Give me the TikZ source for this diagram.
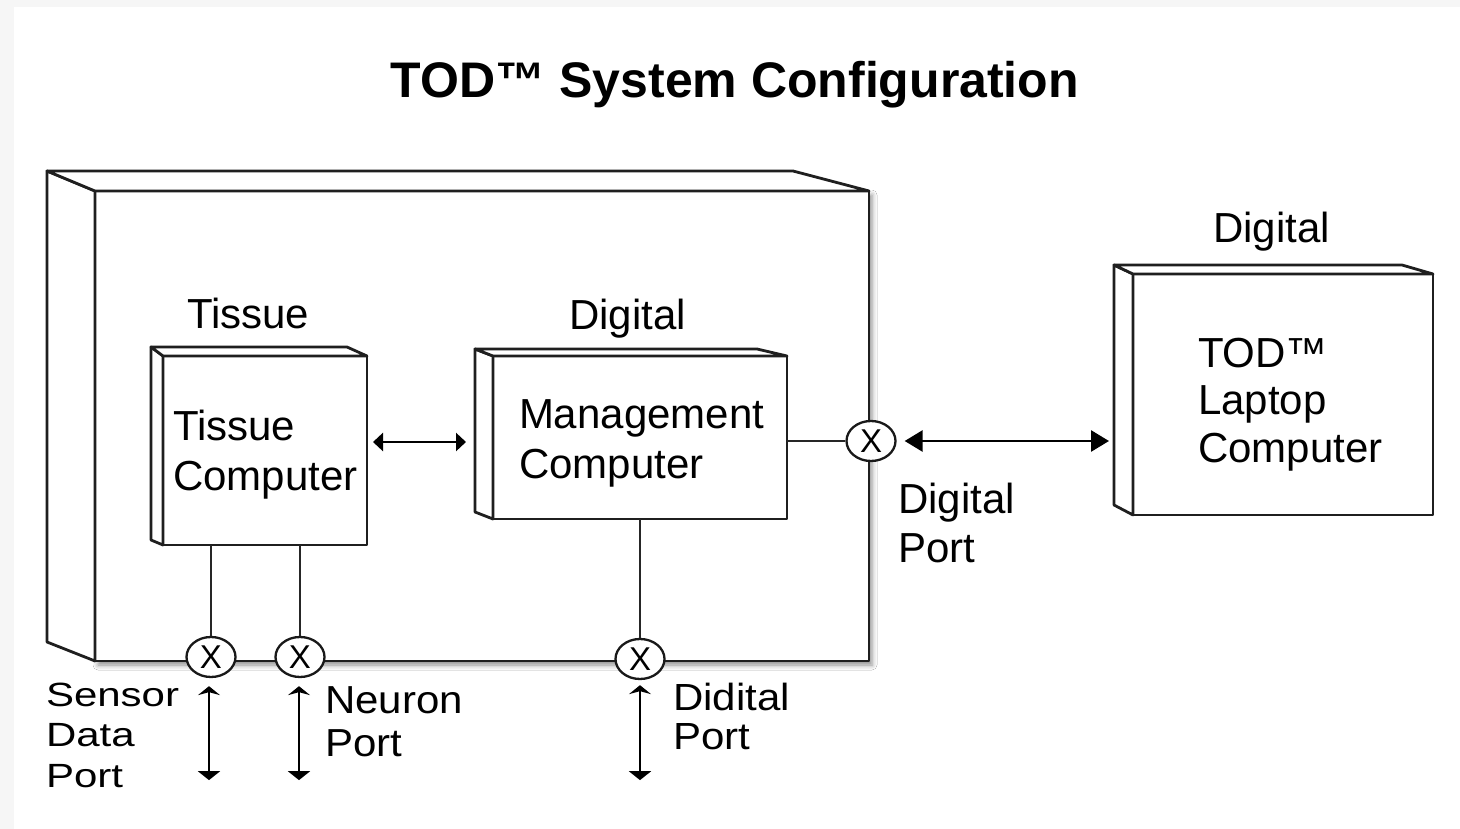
\documentclass[tikz,border=0pt]{standalone}
\usepackage{fontspec}
\setmainfont{Liberation Sans}
\usetikzlibrary{arrows.meta,shapes.geometric,calc,shadows.blur}
\newcommand{\vsq}[2]{\scalebox{1}[#1]{\begin{tabular}[t]{@{}l@{}}#2\end{tabular}}}
\begin{document}
\begin{tikzpicture}[x=1pt,y=-1pt,
  boxline/.style={line width=2.8pt, line join=round, draw=black!88},
  face/.style={boxline, fill=white},
  front/.style={boxline, fill=white, rectangle, anchor=north west, inner sep=0pt, outer sep=0pt},
  wire/.style={line width=2pt, draw=black!85},
  port/.style={ellipse, draw=black!90, line width=2.3pt, fill=white, minimum width=49pt, minimum height=40pt, inner sep=0pt, font=\fontsize{33}{33}\selectfont},
  lbl/.style={anchor=base west, inner sep=0pt, outer sep=0pt},
  hdr/.style={anchor=base west, inner sep=0pt, font=\fontsize{42}{50}\selectfont},
  harrow/.style={line width=2.8pt, {Triangle[length=10pt,width=18pt]}-{Triangle[length=10pt,width=18pt]}},
  bigarrow/.style={line width=2.8pt, {Triangle[length=18pt,width=21pt]}-{Triangle[length=18pt,width=21pt]}},
  varrow/.style={line width=2.6pt, {Stealth[length=9pt,width=22pt,inset=3pt]}-{Triangle[length=9pt,width=22pt]}}
]
\useasboundingbox (0,0) rectangle (1460,829);
% page background
\fill[gray!7] (0,0) rectangle (1460,829);
\fill[white] (14,7) rectangle (1460,829);

% title
\node[anchor=base, inner sep=0pt, font=\fontsize{50}{60}\selectfont\bfseries] (title) at (735,98) {TOD™ System Configuration};

% ---------- system enclosure ----------
\node[front, minimum width=774pt, minimum height=470pt,
      blur shadow={shadow xshift=3pt, shadow yshift=-4pt, shadow blur radius=5pt, shadow opacity=45}] (sys) at (95,191) {};
\draw[face] (47,171) -- (95,191) -- (95,661) -- (47,642) -- cycle;
\draw[face] (47,171) -- (793,171) -- (869,191) -- (95,191) -- cycle;

% ---------- tissue computer ----------
\node[front, minimum width=204pt, minimum height=189pt] (tc) at (163,356) {};
\draw[face] (151,347) -- (163,356) -- (163,545) -- (151,540) -- cycle;
\draw[face] (151,347) -- (347,347) -- (367,356) -- (163,356) -- cycle;
\node[lbl] (tctext) at (173,440) {\fontsize{42}{50}\selectfont\vsq{1}{Tissue\\Computer}};
\node[hdr] (tchdr) at (187,328) {Tissue};

% ---------- management computer ----------
\node[front, minimum width=294pt, minimum height=163pt] (mc) at (493,356) {};
\draw[face] (475,349) -- (493,356) -- (493,519) -- (475,512) -- cycle;
\draw[face] (475,349) -- (757,349) -- (787,356) -- (493,356) -- cycle;
\coordinate (mcL) at (475,442);
\node[lbl] (mctext) at (519,428) {\fontsize{42}{50}\selectfont\vsq{1}{Management\\Computer}};
\node[hdr] (mchdr) at (569,330) {Digital};

% ---------- laptop ----------
\node[front, minimum width=300pt, minimum height=241pt] (lap) at (1133,274) {};
\draw[face] (1114,265) -- (1133,274) -- (1133,515) -- (1114,505) -- cycle;
\draw[face] (1114,265) -- (1402,265) -- (1433,274) -- (1133,274) -- cycle;
\coordinate (lapL) at (1114,441);
\node[lbl] (laptext) at (1198,367) {\fontsize{42}{47.5}\selectfont\vsq{1}{TOD™\\Laptop\\Computer}};
\node[hdr] (laphdr) at (1213,243) {Digital};

% ---------- ports ----------
\node[port] (p1) at (211,657) {X};
\node[port] (p2) at (300,657) {X};
\node[port] (p3) at (640,659) {X};
\node[port] (p4) at (871,441) {X};

% wires
\draw[wire] (p1.north |- tc.south) -- (p1.north);
\draw[wire] (p2.north |- tc.south) -- (p2.north);
\draw[wire] (p3.north |- mc.south) -- (p3.north);
\draw[wire] (mc.east |- p4) -- (p4.west);

% arrows
\draw[harrow] ($(tc.east |- mcL)+(6,0)$) -- ($(mcL)+(-9,0)$);
\draw[bigarrow] ($(p4.east)+(8,0)$) -- ($(lapL)+(-5,0)$);
\draw[varrow] ($(p1.south)+(-2,8)$) -- ($(p1.south)+(-2,102)$);
\draw[varrow] ($(p2.south)+(-1,8)$) -- ($(p2.south)+(-1,102)$);
\draw[varrow] ($(p3.south)+(0,5)$) -- ($(p3.south)+(0,100)$);

% port labels
\node[lbl] (dplbl) at (898,513) {\fontsize{42}{49}\selectfont\vsq{1}{Digital\\Port}};
\node[lbl] (splbl) at (46,706) {\fontsize{42}{51}\selectfont\vsq{0.8}{Sensor\\Data\\Port}};
\node[lbl] (nplbl) at (325,713) {\fontsize{42}{47.3}\selectfont\vsq{0.93}{Neuron\\Port}};
\node[lbl] (ddlbl) at (673,710) {\fontsize{42}{44.4}\selectfont\vsq{0.9}{Didital\\Port}};
\end{tikzpicture}
\end{document}
